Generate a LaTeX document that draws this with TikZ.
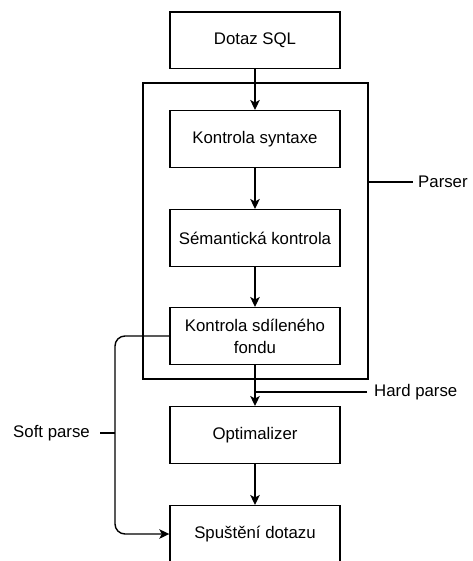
\documentclass[tikz,border=0pt]{standalone}
\usepackage{fontspec}
\setmainfont{Liberation Sans}
\usetikzlibrary{arrows.meta}
\begin{document}
\begin{tikzpicture}[x=1pt, y=-1pt,
  every node/.style={font=\fontsize{16.8}{22}\selectfont},
  stage/.style={draw, line width=1.4pt, minimum width=170pt, minimum height=56.6pt,
    inner sep=0pt, align=center},
  lbl/.style={inner ysep=0pt},
  line/.style={line width=1.4pt},
  arrow/.style={line width=1.4pt, -{Stealth[length=10pt, width=9.5pt, inset=2.5pt]}}]
  \useasboundingbox (0,0) rectangle (472,561);

  % parser frame
  \node[draw, line width=1.4pt, minimum width=225pt, minimum height=296pt, inner sep=0pt]
    (parser) at (255.5,231) {};

  % processing stages
  \node[stage] (dotaz) at (255,40.5) {Dotaz SQL};
  \node[stage] (syn)   at (255,139)  {Kontrola syntaxe};
  \node[stage] (sem)   at (255,238)  {Sémantická kontrola};
  \node[stage] (fond)  at (255,336)  {Kontrola sdíleného\\fondu};
  \node[stage] (opt)   at (255,435)  {Optimalizer};
  \node[stage] (spu)   at (255,534)  {Spuštění dotazu};

  % labels
  \node[lbl, anchor=west, inner xsep=5pt] (parserlbl) at (413,182) {Parser};
  \node[lbl, anchor=west, inner xsep=7pt] (hardlbl) at (367,392) {Hard parse};
  \node[lbl, anchor=east, inner xsep=10pt] (softlbl) at (100,433) {Soft parse};

  % main flow
  \draw[arrow] (dotaz) -- (syn);
  \draw[arrow] (syn) -- (sem);
  \draw[arrow] (sem) -- (fond);
  \draw[arrow] (fond) -- (opt);
  \draw[arrow] (opt) -- (spu);

  % soft parse shortcut
  \coordinate (sx) at (115,433);
  \draw[arrow, rounded corners=10pt] (fond.west) -| (sx) |- (spu.west);

  % label leaders
  \draw[line] (parser.east |- parserlbl.west) -- (parserlbl.west);
  \coordinate (hp) at (fond.south |- hardlbl.west);
  \draw[line] (hardlbl.west) -- (hp);
  \draw[line] (softlbl.east) -- (sx);
\end{tikzpicture}
\end{document}
